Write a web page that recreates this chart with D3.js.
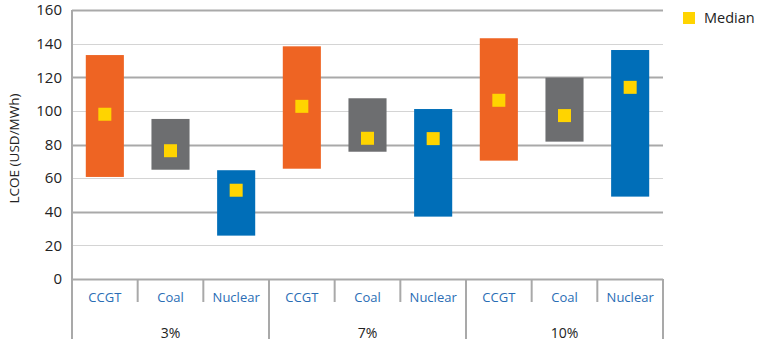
<!DOCTYPE html>
<html>
<head>
<meta charset="utf-8">
<script src="https://cdn.jsdelivr.net/npm/d3@7"></script>
<style>
  html, body { margin: 0; padding: 0; background: #fff; }
  svg { display: block; font-family: "Open Sans", "Noto Sans", sans-serif; }
</style>
</head>
<body>
<svg id="chart" width="767" height="347"></svg>
<script>
// Discount-rate groups and the technologies inside each
const groups = ["3%", "7%", "10%"];
const techs = ["CCGT", "Coal", "Nuclear"];

// LCOE range (USD/MWh) per group, in tech order
const lowValues = [
  [60.7, 65.0, 25.8],
  [65.6, 75.7, 37.1],
  [70.4, 81.7, 49.0]
];
const highValues = [
  [133.2, 95.2, 64.7],
  [138.4, 107.5, 101.1],
  [143.2, 119.8, 136.2]
];
const medianValues = [
  [98.0, 76.3, 52.8],
  [102.7, 83.7, 83.5],
  [106.3, 97.2, 114.0]
];
const yTicks = [0, 20, 40, 60, 80, 100, 120, 140, 160];

const techColor = { CCGT: "#EE6423", Coal: "#6D6E70", Nuclear: "#006EB8" };
const medianColor = "#FFD400";

const rows = [];
groups.forEach((g, gi) => techs.forEach((t, ti) => rows.push({
  key: g + "|" + t, group: g, tech: t,
  low: lowValues[gi][ti], high: highValues[gi][ti], median: medianValues[gi][ti]
})));

const svg = d3.select("#chart");
const plotLeft = 72, plotRight = 663, plotTop = 10, plotBottom = 279;

const y = d3.scaleLinear().domain([0, 160]).range([plotBottom, plotTop]);
const x = d3.scaleBand().domain(rows.map(d => d.key)).range([plotLeft, plotRight]).padding(0);
const barW = x.bandwidth() * 0.58;

// gridlines: heavier every 40, lighter in between
svg.append("g").selectAll("line").data(yTicks).join("line")
  .attr("x1", plotLeft).attr("x2", plotRight)
  .attr("y1", d => Math.round(y(d)) + 0.5).attr("y2", d => Math.round(y(d)) + 0.5)
  .attr("stroke", d => d % 40 === 0 ? "#a9a9a9" : "#d4d4d4")
  .attr("stroke-width", d => d % 40 === 0 ? 2 : 1);

// y axis labels
const yAxis = d3.axisLeft(y).tickValues(yTicks).tickSize(0).tickPadding(10);
const ya = svg.append("g").attr("transform", `translate(${plotLeft},0)`).call(yAxis);
ya.select(".domain").remove();
ya.selectAll("text").attr("font-size", 15).attr("fill", "#222")
  .attr("font-family", "'Open Sans', sans-serif");

// left axis line, running down through the category label rows
svg.append("line").attr("x1", plotLeft).attr("x2", plotLeft).attr("y1", plotTop).attr("y2", 339)
  .attr("stroke", "#a9a9a9").attr("stroke-width", 2);

// axis title
svg.append("text")
  .attr("transform", `translate(19,${(plotTop + plotBottom) / 2 + 4}) rotate(-90)`)
  .attr("text-anchor", "middle").attr("font-size", 13.5).attr("fill", "#222")
  .text("LCOE (USD/MWh)");

// category separators
const seps = d3.range(1, rows.length + 1);
svg.append("g").selectAll("line").data(seps).join("line")
  .attr("x1", i => plotLeft + i * x.bandwidth()).attr("x2", i => plotLeft + i * x.bandwidth())
  .attr("y1", plotBottom).attr("y2", i => i % 3 === 0 ? 339 : 302)
  .attr("stroke", "#a9a9a9").attr("stroke-width", 2);

// technology labels
svg.append("g").selectAll("text").data(rows).join("text")
  .attr("x", d => x(d.key) + x.bandwidth() / 2).attr("y", 302)
  .attr("text-anchor", "middle").attr("font-size", 13).attr("fill", "#2a6db5")
  .text(d => d.tech);

// group labels
svg.append("g").selectAll("text").data(groups).join("text")
  .attr("x", (g, gi) => x(groups[gi] + "|" + techs[1]) + x.bandwidth() / 2).attr("y", 338)
  .attr("text-anchor", "middle").attr("font-size", 14).attr("fill", "#222")
  .text(g => g);

// range bars
svg.append("g").selectAll("rect").data(rows).join("rect")
  .attr("x", d => x(d.key) + (x.bandwidth() - barW) / 2)
  .attr("width", barW)
  .attr("y", d => y(d.high))
  .attr("height", d => y(d.low) - y(d.high))
  .attr("fill", d => techColor[d.tech]);

// median markers
const m = 13;
svg.append("g").selectAll("rect").data(rows).join("rect")
  .attr("x", d => x(d.key) + x.bandwidth() / 2 - m / 2)
  .attr("y", d => y(d.median) - m / 2)
  .attr("width", m).attr("height", m)
  .attr("fill", medianColor);

// legend
svg.append("rect").attr("x", 683).attr("y", 12).attr("width", 12).attr("height", 12).attr("fill", medianColor);
svg.append("text").attr("x", 704).attr("y", 23).attr("font-size", 14.5).attr("fill", "#222").text("Median");
</script>
</body>
</html>
